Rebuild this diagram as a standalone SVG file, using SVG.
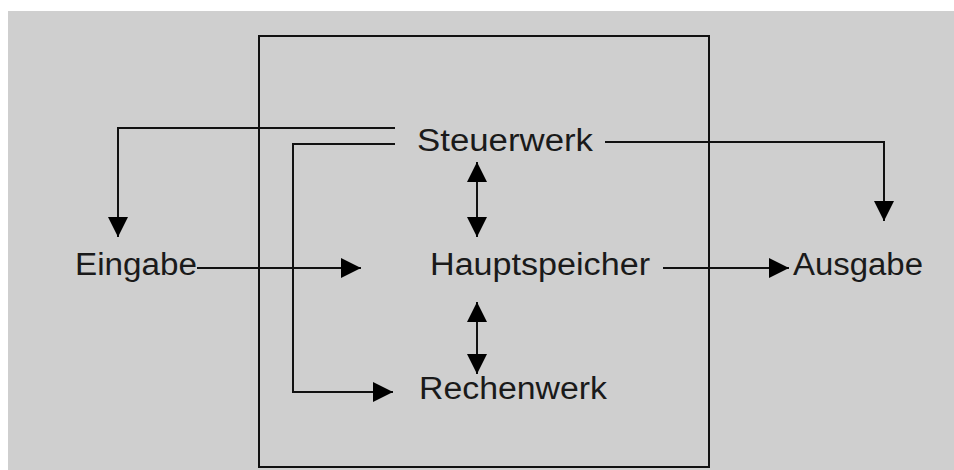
<svg xmlns="http://www.w3.org/2000/svg" width="954" height="470" viewBox="0 0 954 470">
  <defs>
    <style>
      .lbl { font-family: "Liberation Sans", Arial, sans-serif; font-size: 31px; fill: #1a1a1a; }
      .wire { fill: none; stroke: #111; stroke-width: 2; }
      .frame { fill: none; stroke: #111; stroke-width: 2; }
    </style>
    <marker id="head" markerUnits="userSpaceOnUse" markerWidth="20" markerHeight="20"
            refX="20" refY="10" orient="auto-start-reverse" viewBox="0 0 20 20">
      <path d="M0,0 L20,10 L0,20 Z" fill="#000"/>
    </marker>
  </defs>

  <!-- canvas -->
  <rect x="0" y="0" width="954" height="470" fill="#ffffff"/>
  <rect x="8" y="11" width="946" height="459" fill="#cfcfcf"/>

  <!-- computer enclosure -->
  <g id="computer">
    <rect class="frame" x="259" y="36" width="450" height="431"/>
  </g>

  <g id="steuerwerk">
    <text class="lbl" x="417" y="151" textLength="176" lengthAdjust="spacingAndGlyphs">Steuerwerk</text>
  </g>
  <g id="hauptspeicher">
    <text class="lbl" x="430" y="275" textLength="220" lengthAdjust="spacingAndGlyphs">Hauptspeicher</text>
  </g>
  <g id="rechenwerk">
    <text class="lbl" x="419" y="399" textLength="188" lengthAdjust="spacingAndGlyphs">Rechenwerk</text>
  </g>
  <g id="eingabe">
    <text class="lbl" x="75" y="275" textLength="122" lengthAdjust="spacingAndGlyphs">Eingabe</text>
  </g>
  <g id="ausgabe">
    <text class="lbl" x="793" y="275" textLength="130" lengthAdjust="spacingAndGlyphs">Ausgabe</text>
  </g>

  <g id="connectors">
    <path class="wire" d="M395,128 H118 V237" marker-end="url(#head)"/>
    <path class="wire" d="M395,144 H293 V392 H393" marker-end="url(#head)"/>
    <path class="wire" d="M605,142 H884 V221" marker-end="url(#head)"/>
    <path class="wire" d="M197,268 H361" marker-end="url(#head)"/>
    <path class="wire" d="M663,268 H789" marker-end="url(#head)"/>
    <path class="wire" d="M477,162 V237" marker-start="url(#head)" marker-end="url(#head)"/>
    <path class="wire" d="M477,302 V374" marker-start="url(#head)" marker-end="url(#head)"/>
  </g>
</svg>
